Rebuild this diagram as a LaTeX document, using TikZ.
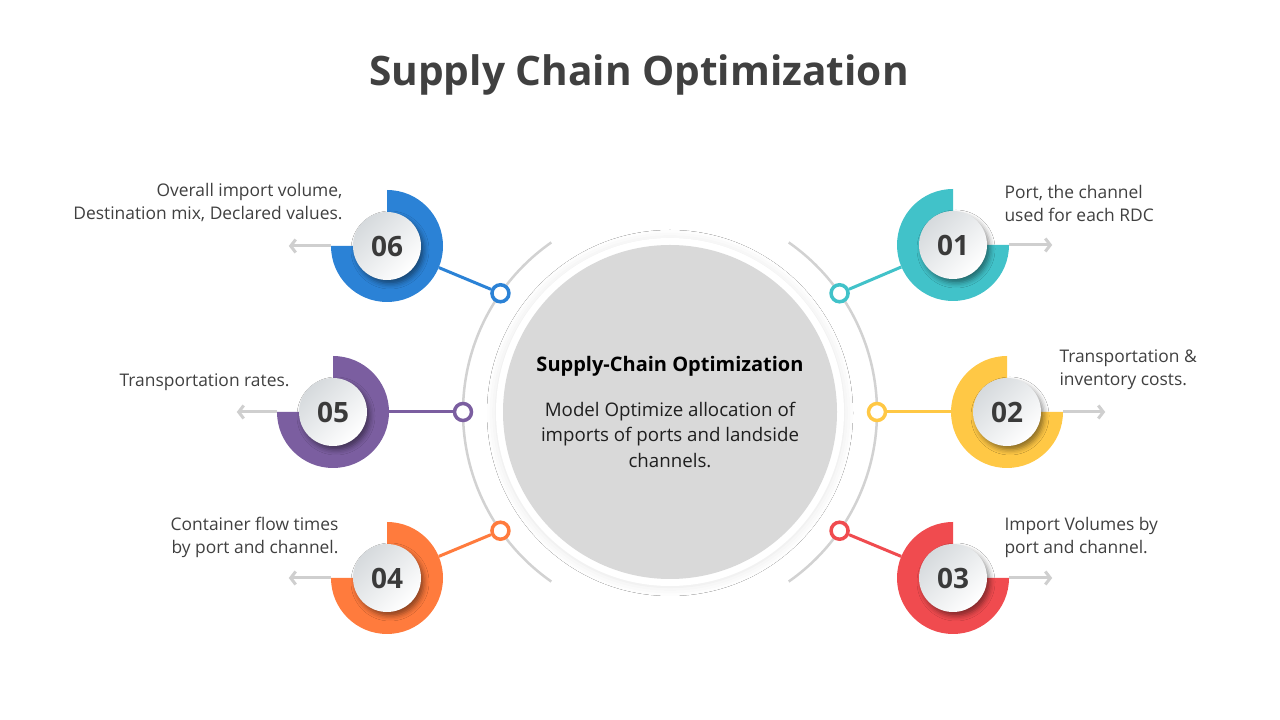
\documentclass[tikz,border=0pt]{standalone}
\usepackage{fontspec}
\setmainfont{Open Sans}
\usetikzlibrary{arrows.meta,positioning,shadows.blur}
\definecolor{cteal}{HTML}{41C2C9}
\definecolor{cyellow}{HTML}{FFC845}
\definecolor{cred}{HTML}{F04B4F}
\definecolor{corange}{HTML}{FF7B3D}
\definecolor{cpurple}{HTML}{7B5EA0}
\definecolor{cblue}{HTML}{2B82D6}
\definecolor{trackgray}{HTML}{D2D2D2}
\definecolor{arrowgray}{HTML}{CFCFCF}
\definecolor{hubgray}{HTML}{D9D9D9}
\definecolor{discgray}{HTML}{D6DADD}
\definecolor{numgray}{HTML}{3A3A3A}
\definecolor{textgray}{HTML}{404040}
\tikzset{
  track/.style   = {draw=trackgray, line width=2.5pt},
  dot/.style     = {draw=#1, fill=white, circle, line width=3.5pt,
                    inner sep=0pt, minimum size=17pt},
  link/.style    = {draw=#1, line width=3pt},
  ring/.style    = {circle, inner sep=0pt, minimum size=112pt},
  disc/.style    = {circle, inner sep=0pt, minimum size=68pt,
                    top color=discgray, bottom color=white, shading angle=45,
                    blur shadow={shadow xshift=3pt, shadow yshift=-4pt,
                                 shadow blur radius=5pt, shadow opacity=45},
                    font=\fontsize{28}{28}\selectfont\bfseries, text=numgray},
  pointer/.style = {draw=arrowgray, line width=3pt,
                    -{Straight Barb[length=5pt,width=13pt]}},
  note/.style    = {font=\fontsize{17.4}{23}\selectfont, text=textgray},
}
% #1 name, #2 centre, #3 colour, #4 start angle of the 3/4 ring, #5 number
\newcommand{\badge}[5]{%
  \fill[#3] (#2) -- ++(#4:56pt) arc[start angle=#4, delta angle=270, radius=56pt] -- cycle;
  \node[ring] (#1) at (#2) {};
  \node[disc] (#1n) at (#2) {#5};
}

\begin{document}
\begin{tikzpicture}[x=1pt, y=1pt]
\fill[white] (0,0) rectangle (1280,720);
\useasboundingbox (0,0) rectangle (1280,720);

% ---- title ----
\node[font=\fontsize{40.6}{41}\selectfont\bfseries, text=textgray] (title) at (639,645)
  {Supply Chain Optimization};

% ---- hub ----
\coordinate (C) at (670,308);
\draw[track] ([shift={(125:207pt)}]C) arc[start angle=125, end angle=235, radius=207pt];
\draw[track] ([shift={(-55:207pt)}]C) arc[start angle=-55, end angle=55, radius=207pt];
\node[circle, fill=white, minimum size=348pt,
      blur shadow={shadow xshift=0pt, shadow yshift=-1pt,
                   shadow blur radius=9pt, shadow opacity=10}] (rim) at (C) {};
\node[circle, fill=hubgray, minimum size=334pt] (hub) at (C) {};
\node[font=\fontsize{20}{24}\selectfont\bfseries, text=black] (hubtitle) at (670,354)
  {Supply-Chain Optimization};
\node[below=19pt of hubtitle, align=center, text=black!88,
      font=\fontsize{18.7}{25.5}\selectfont] (hubtext)
  {Model Optimize allocation of\\imports of ports and landside\\channels.};

% ---- badges ----
\badge{b1}{953,475}{cteal}{90}{01}
\badge{b2}{1007,308}{cyellow}{90}{02}
\badge{b3}{953,142}{cred}{90}{03}
\badge{b4}{387,142}{corange}{180}{04}
\badge{b5}{333,308}{cpurple}{180}{05}
\badge{b6}{387,474}{cblue}{180}{06}

% ---- dots on the track ----
\node[dot=cteal]   (d1) at ([shift={(35:207pt)}]C) {};
\node[dot=cyellow] (d2) at ([shift={(0:207pt)}]C) {};
\node[dot=cred]    (d3) at ([shift={(-35:207pt)}]C) {};
\node[dot=corange] (d4) at ([shift={(215:207pt)}]C) {};
\node[dot=cpurple] (d5) at ([shift={(180:207pt)}]C) {};
\node[dot=cblue]   (d6) at ([shift={(145:207pt)}]C) {};
\draw[link=cteal]   (d1) -- (b1);
\draw[link=cyellow] (d2) -- (b2);
\draw[link=cred]    (d3) -- (b3);
\draw[link=corange] (d4) -- (b4);
\draw[link=cpurple] (d5) -- (b5);
\draw[link=cblue]   (d6) -- (b6);

% ---- arrows ----
\coordinate (a1) at ([xshift=43pt]b1.east);
\coordinate (a2) at ([xshift=42pt]b2.east);
\coordinate (a3) at ([xshift=43pt]b3.east);
\coordinate (a4) at ([xshift=-42pt]b4.west);
\coordinate (a5) at ([xshift=-40pt]b5.west);
\coordinate (a6) at ([xshift=-42pt]b6.west);
\foreach \b/\a in {b1/a1,b2/a2,b3/a3,b4/a4,b5/a5,b6/a6}
  \draw[pointer] (\b) -- (\a);

% ---- notes ----
\node[note, anchor=west, align=left]  (t1) at (1001,517) {Port, the channel\\used for each RDC};
\node[note, anchor=west, align=left]  (t2) at (1056,350) {Transportation \&\\inventory costs.};
\node[note, anchor=west, align=left]  (t3) at (1001,183) {Import Volumes by\\port and channel.};
\node[note, anchor=east, align=right] (t4) at (342,183)  {Container flow times\\by port and channel.};
\node[note, anchor=east, align=right] (t5) at (293,338)  {Transportation rates.};
\node[note, anchor=east, align=right] (t6) at (346,517)  {Overall import volume,\\Destination mix, Declared values.};
\end{tikzpicture}
\end{document}
